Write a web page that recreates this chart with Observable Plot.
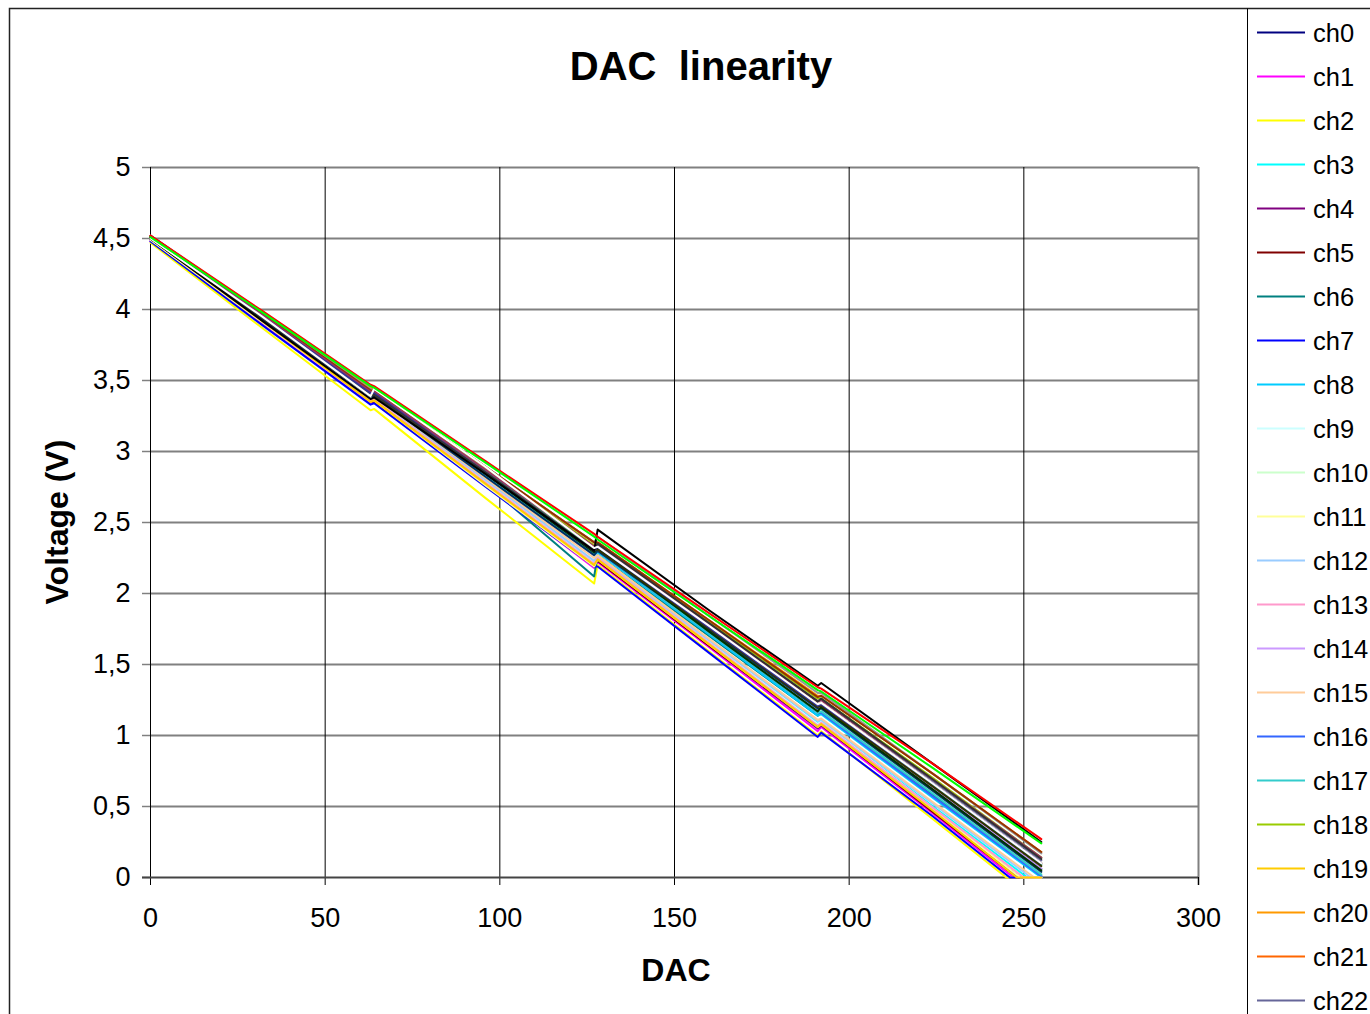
<!DOCTYPE html>
<html>
<head>
<meta charset="utf-8">
<script src="https://cdn.jsdelivr.net/npm/d3@7"></script>
<script src="https://cdn.jsdelivr.net/npm/@observablehq/plot@0.6"></script>
<style>
  html, body { margin: 0; padding: 0; background: #fff; overflow: hidden; }
  #chart svg { display: block; }
</style>
</head>
<body>
<div id="chart"></div>
<script>
// ---- data ----
const dacPoints = [0, 32, 63, 64, 96, 127, 128, 160, 191, 192, 224, 255];

const channels = ["ch0","ch1","ch2","ch3","ch4","ch5","ch6","ch7","ch8","ch9","ch10","ch11","ch12","ch13","ch14","ch15","ch16","ch17","ch18","ch19","ch20","ch21","ch22","ch23","ch24","ch25","ch26","ch27","ch28","ch29","ch30","ch31","ch32","ch33","ch34","ch35"];

const channelColors = ["#000080","#FF00FF","#FFFF00","#00FFFF","#800080","#800000","#008080","#0000FF","#00CCFF","#CCFFFF","#CCFFCC","#FFFF99","#99CCFF","#FF99CC","#CC99FF","#FFCC99","#3366FF","#33CCCC","#99CC00","#FFCC00","#FF9900","#FF6600","#666699","#969696","#003366","#339966","#003300","#333300","#993300","#993366","#333399","#333333","#000000","#FFFFFF","#FF0000","#00FF00"];

// DAC code where a channel's output reaches 0 V (null = stays above 0)
const zeroAt = [null,247,245,251,249,248,null,246,null,250,null,249,252,250,null,253,null,null,null,248,null,null,null,null,null,null,null,null,null,null,null,null,null,null,null,null];

const v_ch0  = [4.50, 3.93, 3.39, 3.40, 2.83, 2.28, 2.32, 1.75, 1.19, 1.20, 0.63, 0.06];
const v_ch1  = [4.48, 3.90, 3.34, 3.35, 2.76, 2.18, 2.22, 1.62, 1.03, 1.06, 0.45, 0.00];
const v_ch2  = [4.47, 3.87, 3.29, 3.30, 2.67, 2.07, 2.20, 1.59, 1.00, 1.03, 0.41, 0.00];
const v_ch3  = [4.51, 3.93, 3.37, 3.37, 2.79, 2.22, 2.25, 1.66, 1.09, 1.10, 0.50, 0.00];
const v_ch4  = [4.49, 3.91, 3.36, 3.36, 2.78, 2.21, 2.24, 1.63, 1.05, 1.07, 0.47, 0.00];
const v_ch5  = [4.50, 3.92, 3.35, 3.35, 2.77, 2.20, 2.23, 1.63, 1.06, 1.08, 0.46, 0.00];
const v_ch6  = [4.51, 3.93, 3.38, 3.39, 2.77, 2.12, 2.27, 1.70, 1.14, 1.16, 0.58, 0.01];
const v_ch7  = [4.48, 3.89, 3.33, 3.34, 2.75, 2.19, 2.19, 1.58, 0.99, 1.02, 0.43, 0.00];
const v_ch8  = [4.51, 3.94, 3.40, 3.41, 2.83, 2.27, 2.29, 1.71, 1.14, 1.15, 0.56, 0.00];
const v_ch9  = [4.50, 3.92, 3.37, 3.38, 2.79, 2.22, 2.26, 1.66, 1.08, 1.10, 0.49, 0.00];
const v_ch10 = [4.51, 3.95, 3.41, 3.41, 2.84, 2.29, 2.30, 1.73, 1.17, 1.18, 0.60, 0.03];
const v_ch11 = [4.49, 3.91, 3.35, 3.36, 2.76, 2.19, 2.24, 1.64, 1.06, 1.08, 0.48, 0.00];
const v_ch12 = [4.50, 3.93, 3.38, 3.38, 2.80, 2.23, 2.26, 1.67, 1.10, 1.11, 0.52, 0.00];
const v_ch13 = [4.50, 3.92, 3.36, 3.37, 2.78, 2.21, 2.25, 1.65, 1.07, 1.09, 0.49, 0.00];
const v_ch14 = [4.51, 3.95, 3.40, 3.40, 2.82, 2.27, 2.32, 1.75, 1.19, 1.21, 0.63, 0.06];
const v_ch15 = [4.50, 3.94, 3.39, 3.39, 2.81, 2.25, 2.27, 1.68, 1.11, 1.12, 0.53, 0.00];
const v_ch16 = [4.52, 3.98, 3.44, 3.43, 2.86, 2.30, 2.30, 1.72, 1.16, 1.16, 0.57, 0.01];
const v_ch17 = [4.51, 3.95, 3.40, 3.41, 2.83, 2.28, 2.30, 1.72, 1.16, 1.17, 0.59, 0.02];
const v_ch18 = [4.51, 3.96, 3.43, 3.43, 2.88, 2.34, 2.35, 1.80, 1.26, 1.26, 0.70, 0.14];
const v_ch19 = [4.50, 3.92, 3.35, 3.36, 2.77, 2.20, 2.24, 1.64, 1.06, 1.08, 0.47, 0.00];
const v_ch20 = [4.51, 3.97, 3.45, 3.44, 2.89, 2.36, 2.36, 1.81, 1.28, 1.28, 0.73, 0.18];
const v_ch21 = [4.51, 3.96, 3.42, 3.42, 2.86, 2.31, 2.33, 1.77, 1.22, 1.23, 0.66, 0.10];
const v_ch22 = [4.50, 3.95, 3.41, 3.41, 2.86, 2.32, 2.34, 1.78, 1.24, 1.25, 0.68, 0.12];
const v_ch23 = [4.51, 3.97, 3.44, 3.43, 2.89, 2.36, 2.40, 1.84, 1.30, 1.30, 0.73, 0.17];
const v_ch24 = [4.50, 3.93, 3.39, 3.39, 2.82, 2.27, 2.30, 1.74, 1.19, 1.19, 0.61, 0.04];
const v_ch25 = [4.51, 3.96, 3.42, 3.42, 2.86, 2.32, 2.32, 1.76, 1.21, 1.22, 0.65, 0.09];
const v_ch26 = [4.50, 3.94, 3.40, 3.40, 2.84, 2.29, 2.32, 1.73, 1.17, 1.20, 0.62, 0.05];
const v_ch27 = [4.51, 3.95, 3.40, 3.40, 2.85, 2.30, 2.31, 1.75, 1.20, 1.21, 0.64, 0.08];
const v_ch28 = [4.52, 3.97, 3.43, 3.43, 2.89, 2.36, 2.36, 1.81, 1.27, 1.28, 0.73, 0.18];
const v_ch29 = [4.51, 3.96, 3.42, 3.42, 2.87, 2.33, 2.34, 1.78, 1.24, 1.25, 0.69, 0.14];
const v_ch30 = [4.50, 3.95, 3.41, 3.41, 2.85, 2.30, 2.33, 1.76, 1.21, 1.22, 0.66, 0.10];
const v_ch31 = [4.50, 3.94, 3.39, 3.40, 2.85, 2.30, 2.35, 1.79, 1.24, 1.26, 0.69, 0.13];
const v_ch32 = [4.50, 3.92, 3.37, 3.38, 2.84, 2.30, 2.45, 1.88, 1.35, 1.37, 0.80, 0.25];
const v_ch33 = [4.50, 3.95, 3.39, 3.44, 2.89, 2.32, 2.33, 1.77, 1.22, 1.23, 0.66, 0.10];
const v_ch34 = [4.52, 3.99, 3.47, 3.46, 2.93, 2.42, 2.40, 1.86, 1.34, 1.33, 0.80, 0.27];
const v_ch35 = [4.51, 3.98, 3.46, 3.45, 2.92, 2.40, 2.38, 1.84, 1.32, 1.31, 0.77, 0.24];

const xTicks = [0, 50, 100, 150, 200, 250, 300];
const yTicks = [0, 0.5, 1, 1.5, 2, 2.5, 3, 3.5, 4, 4.5, 5];

const titleText = "DAC  linearity";
const xLabel = "DAC";
const yLabel = "Voltage (V)";

// ---- build table ----
const seriesValues = [v_ch0,v_ch1,v_ch2,v_ch3,v_ch4,v_ch5,v_ch6,v_ch7,v_ch8,v_ch9,v_ch10,v_ch11,v_ch12,v_ch13,v_ch14,v_ch15,v_ch16,v_ch17,v_ch18,v_ch19,v_ch20,v_ch21,v_ch22,v_ch23,v_ch24,v_ch25,v_ch26,v_ch27,v_ch28,v_ch29,v_ch30,v_ch31,v_ch32,v_ch33,v_ch34,v_ch35];
const rows = [];
channels.forEach((ch, i) => {
  const vals = seriesValues[i];
  dacPoints.forEach((d, j) => {
    if (zeroAt[i] != null && d === 255) rows.push({ch, dac: zeroAt[i], v: 0});
    rows.push({ch, dac: d, v: vals[j]});
  });
});

const W = 1370, H = 1014;
const FONT = "'Liberation Sans', Arial, Helvetica, sans-serif";
const fmtY = d => String(d).replace(".", ",");

const svg = Plot.plot({
  width: W,
  height: H,
  marginLeft: 150,
  marginRight: 172,
  marginTop: 167,
  marginBottom: 137,
  style: {fontFamily: FONT, fontSize: "27px", color: "#000", background: "#fff"},
  x: {domain: [0, 300], ticks: xTicks},
  y: {domain: [0, 5], ticks: yTicks},
  color: {domain: channels, range: channelColors},
  marks: [
    Plot.gridY(yTicks.filter(d => d > 0), {stroke: "#808080", strokeOpacity: 1, strokeWidth: 2}),
    Plot.gridX(xTicks.filter(d => d > 0 && d < 300), {stroke: "#000", strokeOpacity: 1, strokeWidth: 1}),
    Plot.ruleX([300], {stroke: "#808080", strokeWidth: 2, insetBottom: -8}),
    Plot.axisY({ticks: yTicks, tickSize: 8, tickPadding: 12, tickFormat: fmtY, stroke: "#808080", strokeWidth: 1.5, fontSize: 27, label: null}),
    Plot.axisX({ticks: xTicks, tickSize: 8, tickPadding: 22, stroke: "#000", fontSize: 27, label: null}),
    Plot.ruleX([0], {stroke: "#000", strokeWidth: 1, insetBottom: -8}),
    Plot.ruleY([0], {stroke: "#444", strokeWidth: 2, insetLeft: -8}),
    Plot.line(rows, {x: "dac", y: "v", z: "ch", stroke: "ch", strokeWidth: 2, curve: "linear"})
  ]
});

document.getElementById("chart").appendChild(svg);

const s = d3.select(svg);
// outer chart border
s.append("path").attr("d", `M9.5,${H} V8.5 H${W}`).attr("fill", "none").attr("stroke", "#222").attr("stroke-width", 1.5);
// legend box border
s.append("line").attr("x1", 1247.5).attr("x2", 1247.5).attr("y1", 8.5).attr("y2", H).attr("stroke", "#000").attr("stroke-width", 1);

// title
s.append("text").attr("x", 701).attr("y", 80).attr("text-anchor", "middle")
  .attr("font-family", FONT).attr("font-size", 40).attr("font-weight", "bold")
  .style("white-space", "pre").attr("fill", "#000").text(titleText);
// x axis label
s.append("text").attr("x", 676).attr("y", 981).attr("text-anchor", "middle")
  .attr("font-family", FONT).attr("font-size", 32).attr("font-weight", "bold")
  .attr("fill", "#000").text(xLabel);
// y axis label
s.append("text").attr("transform", "translate(68,522) rotate(-90)").attr("text-anchor", "middle")
  .attr("font-family", FONT).attr("font-size", 32).attr("font-weight", "bold")
  .attr("fill", "#000").text(yLabel);

// legend
const lg = s.append("g");
channels.forEach((ch, i) => {
  const y = 32.5 + 44 * i;
  if (y > H - 12) return;
  lg.append("line").attr("x1", 1257).attr("x2", 1305).attr("y1", y).attr("y2", y)
    .attr("stroke", channelColors[i]).attr("stroke-width", 2);
  lg.append("text").attr("x", 1313).attr("y", y + 9.5).attr("text-anchor", "start")
    .attr("font-family", FONT).attr("font-size", 25.5).attr("fill", "#000").text(ch);
});
</script>
</body>
</html>
